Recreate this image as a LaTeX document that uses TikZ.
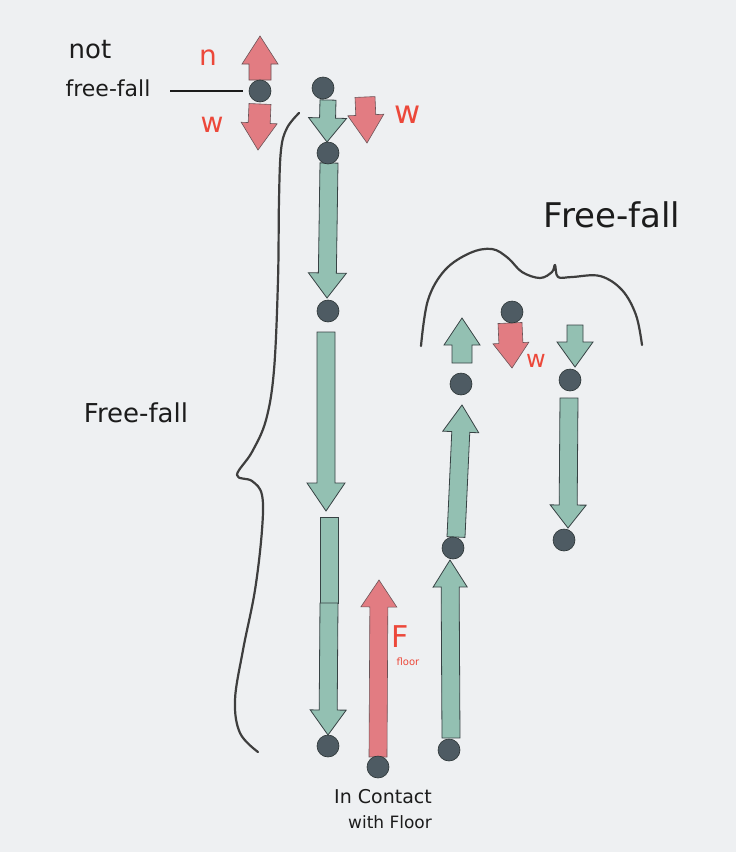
\documentclass[tikz,border=0pt]{standalone}
\usepackage{fontspec}
\setmainfont{DejaVu Sans}
\usetikzlibrary{calc}
\definecolor{board}{RGB}{238,240,242}
\definecolor{greenfill}{RGB}{147,192,178}
\definecolor{redfill}{RGB}{226,124,130}
\definecolor{dotfill}{RGB}{78,91,99}
\definecolor{edge}{RGB}{55,66,68}
\definecolor{redink}{RGB}{236,72,58}
\definecolor{ink}{RGB}{28,28,28}
\tikzset{
  greenarrow/.style={fill=greenfill, draw=edge, line width=0.8pt, line join=miter},
  redarrow/.style={fill=redfill, draw=edge!70!redfill, line width=0.6pt, line join=miter},
  dot/.style={circle, fill=dotfill, draw=edge!80!black, line width=0.6pt, minimum size=22pt, inner sep=0pt},
  hand/.style={text=ink, inner sep=0pt},
  redlabel/.style={text=redink, inner sep=0pt},
  brace/.style={draw=ink!85, line width=2.2pt, line cap=round, line join=round}
}
% #1 style, #2 tail, #3 tip, #4 shaft half width, #5 head half width, #6 head length
\newcommand\arrowpiece[6]{%
  \coordinate (hb) at ($(#3)!#6!(#2)$);
  \path[#1] ($(#2)!#4!90:(#3)$) -- ($(hb)!#4!90:(#3)$) -- ($(hb)!#5!90:(#3)$) -- (#3)
    -- ($(hb)!#5!-90:(#3)$) -- ($(hb)!#4!-90:(#3)$) -- ($(#2)!#4!-90:(#3)$) -- cycle;}
\begin{document}
\begin{tikzpicture}[x=1pt,y=-1pt]
\fill[board] (0,0) rectangle (736,852);
\useasboundingbox (0,0) rectangle (736,852);

% braces
\draw[brace] plot[smooth, tension=0.6] coordinates {(299,113) (287,128) (281,150) (279,200) (278,280) (274,370) (266,420) (252,452) (237,475) (252,481) (262,495) (262,530) (255,590) (243,650) (235,700) (240,733) (258,752)};
\draw[brace] plot[smooth, tension=0.6] coordinates {(421,346) (428,300) (445,270) (470,253) (492,249) (508,258) (522,272) (540,278) (552,272) (555,265) (558,277) (572,277) (600,276) (622,290) (636,315) (642,345)};

% red arrows
\arrowpiece{redarrow}{260,80}{260,36}{11pt}{18pt}{28pt}
\arrowpiece{redarrow}{260,104}{258,150}{11pt}{18pt}{27pt}
\arrowpiece{redarrow}{365,97}{367,143}{10pt}{18pt}{28pt}
\arrowpiece{redarrow}{378,757}{379,580}{9pt}{18pt}{27pt}
\arrowpiece{redarrow}{510,323}{512,368}{12pt}{18pt}{25pt}

% green arrows
\arrowpiece{greenarrow}{328,100}{327,142}{8pt}{19pt}{24pt}
\arrowpiece{greenarrow}{329,163}{327,298}{9pt}{19pt}{25pt}
\arrowpiece{greenarrow}{326,332}{326,511}{9pt}{19pt}{28pt}
\path[greenarrow] (320,517) rectangle (338,603);
\arrowpiece{greenarrow}{329,603}{328,735}{9pt}{18pt}{25pt}
\arrowpiece{greenarrow}{451,738}{450,560}{9pt}{17pt}{27pt}
\arrowpiece{greenarrow}{456,537}{462,405}{9pt}{18pt}{27pt}
\arrowpiece{greenarrow}{462,363}{462,318}{10pt}{18pt}{27pt}
\arrowpiece{greenarrow}{575,325}{575,367}{8pt}{18pt}{25pt}
\arrowpiece{greenarrow}{569,398}{568,528}{9pt}{18pt}{23pt}

% dots
\node[dot] (d1) at (260,91) {};
\node[dot] (d2) at (323,88) {};
\node[dot] (d3) at (328,153) {};
\node[dot] (d4) at (328,311) {};
\node[dot] (d5) at (328,746) {};
\node[dot] (d6) at (378,767) {};
\node[dot] (d7) at (449,750) {};
\node[dot] (d8) at (453,548) {};
\node[dot] (d9) at (461,384) {};
\node[dot] (d10) at (512,312) {};
\node[dot] (d11) at (570,380) {};
\node[dot] (d12) at (564,540) {};

% pointer line
\coordinate (lstart) at (170,91);
\draw[ink, line width=2.2pt] (lstart) -- ([xshift=-6pt]d1.west);

% texts
\node[hand, font=\fontsize{26}{26}\selectfont] (tnot) at (90,50) {not};
\node[hand, font=\fontsize{22}{22}\selectfont] (tff1) at (108,88) {free-fall};
\node[hand, font=\fontsize{26}{26}\selectfont] (tff2) at (136,413) {Free-fall};
\node[hand, font=\fontsize{34}{34}\selectfont] (tff3) at (612,215) {Free-fall};
\node[hand, font=\fontsize{19}{19}\selectfont] (tic) at (383,797) {In Contact};
\node[hand, font=\fontsize{17}{17}\selectfont] (twf) at (390,822) {with Floor};

\node[redlabel, font=\fontsize{28}{28}\selectfont] (ln) at (208,58) {n};
\node[redlabel, font=\fontsize{28}{28}\selectfont] (lw1) at (212,125) {w};
\node[redlabel, font=\fontsize{32}{32}\selectfont] (lw2) at (408,115) {w};
\node[redlabel, font=\fontsize{24}{24}\selectfont] (lw3) at (536,361) {w};
\node[redlabel, font=\fontsize{30}{30}\selectfont] (lF) at (400,637) {F};
\node[redlabel, font=\fontsize{10}{10}\selectfont] (lfl) at (408,662) {floor};
\end{tikzpicture}
\end{document}
